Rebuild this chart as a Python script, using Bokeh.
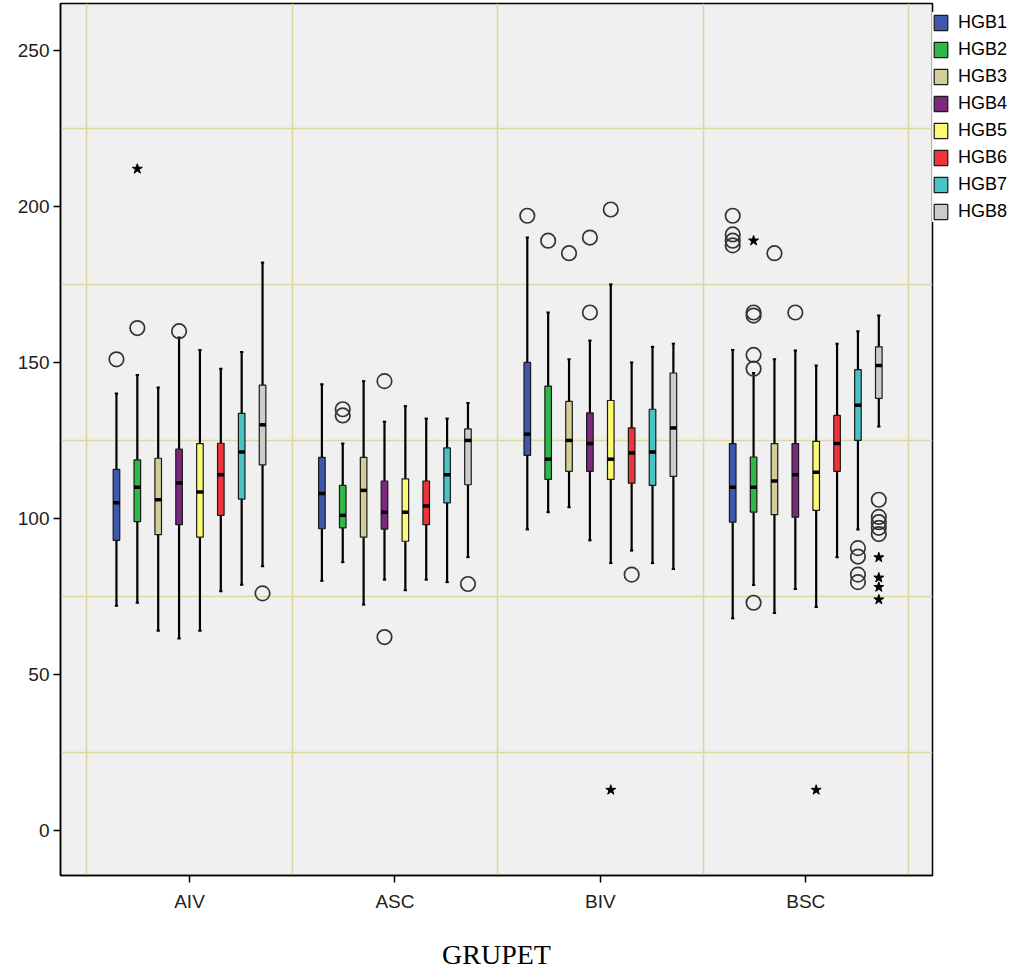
from bokeh.plotting import figure
from bokeh.models import Range1d, FixedTicker, Legend, LegendItem, ColumnDataSource
from bokeh.embed import file_html
from bokeh.resources import INLINE

# ---------------- data ----------------
groups = ["AIV", "ASC", "BIV", "BSC"]
series = ["HGB1", "HGB2", "HGB3", "HGB4", "HGB5", "HGB6", "HGB7", "HGB8"]
colors = ["#3E58AC", "#2EB848", "#D3CE97", "#7C287D", "#FBF873", "#EF3338", "#48C2C5", "#CCCCCC"]

# one row per series, one value per group (AIV, ASC, BIV, BSC)
whisker_low = [
    [72, 80, 96.5, 68],
    [73, 86, 102, 78.7],
    [64, 72.4, 103.6, 69.7],
    [61.5, 80.4, 93, 77.4],
    [64, 77, 85.7, 71.6],
    [76.7, 80.4, 89.7, 87.6],
    [78.8, 79.6, 85.7, 96.5],
    [84.7, 87.6, 83.8, 129.5],
]
q1 = [
    [93, 96.7, 120.2, 98.8],
    [99, 97, 112.5, 102],
    [94.8, 94, 115.1, 101.2],
    [98, 96.6, 115.1, 100.4],
    [94, 92.7, 112.5, 102.6],
    [101, 98, 111.3, 115.1],
    [106.2, 105, 110.6, 125],
    [117.2, 110.8, 113.5, 138.5],
]
median = [
    [105, 108, 127, 110],
    [110, 101, 119, 110],
    [106, 109, 125, 112],
    [111.4, 102, 124, 114],
    [108.5, 102, 119, 114.8],
    [114, 104, 121, 124],
    [121.3, 114, 121.3, 136.3],
    [130, 125, 129, 149],
]
q3 = [
    [115.7, 119.6, 150, 124],
    [118.8, 110.6, 142.4, 119.7],
    [119.3, 119.6, 137.5, 124],
    [122.2, 112, 133.8, 124],
    [124, 112.7, 137.8, 124.7],
    [124.1, 112, 129, 133],
    [133.7, 122.6, 135, 147.7],
    [142.7, 128.7, 146.6, 155],
]
whisker_high = [
    [140, 143, 190, 154],
    [146, 124, 166, 146.6],
    [142, 144, 151, 151],
    [158, 131, 157, 153.8],
    [154, 136, 175, 149],
    [148, 132, 150, 156],
    [153.3, 132, 155, 160],
    [182, 137, 156, 165],
]

# outliers (circles): group index, series index, value
outlier_group = [0, 0, 0, 0,
                 1, 1, 1, 1, 1,
                 2, 2, 2, 2, 2, 2, 2,
                 3, 3, 3, 3, 3, 3, 3, 3, 3, 3, 3, 3, 3, 3, 3, 3, 3, 3, 3, 3]
outlier_series = [0, 1, 3, 7,
                  1, 1, 3, 3, 7,
                  0, 1, 2, 3, 3, 4, 5,
                  0, 0, 0, 0, 1, 1, 1, 1, 1, 2, 3, 6, 6, 6, 6, 7, 7, 7, 7, 7]
outlier_value = [151, 161, 160, 76,
                 135, 133, 144, 62, 79,
                 197, 189, 185, 190, 166, 199, 82,
                 197, 191, 189, 187.5, 166, 165, 152.4, 148, 73, 185, 166,
                 90.5, 87.8, 82, 79.6, 106, 100.5, 98.8, 97, 95]

# extremes (stars)
extreme_group = [0, 2, 3, 3, 3, 3, 3, 3]
extreme_series = [1, 4, 1, 4, 7, 7, 7, 7]
extreme_value = [212, 13, 189, 13, 87.5, 81, 78, 74]

y_ticks = [0, 50, 100, 150, 200, 250]
y_grid = [25, 75, 125, 175, 225]

# ---------------- layout ----------------
offset = 0.1016
box_w = 0.032
cap_w = 0.008

p = figure(frame_width=872, frame_height=872,
           x_range=Range1d(-0.628, 3.617), y_range=Range1d(-14.4, 265),
           output_backend="svg", toolbar_location=None,
           min_border_left=60, min_border_top=3, min_border_right=0, min_border_bottom=93)

p.background_fill_color = "#F0F0F0"
p.border_fill_color = "white"
p.outline_line_color = "black"
p.outline_line_width = 1.5

p.xgrid.ticker = FixedTicker(ticks=[-0.5, 0.5, 1.5, 2.5, 3.5])
p.ygrid.ticker = FixedTicker(ticks=y_grid)
for g in (p.xgrid, p.ygrid):
    g.grid_line_color = "#DCD8A2"
    g.grid_line_width = 1.6

p.xaxis.ticker = FixedTicker(ticks=list(range(len(groups))))
p.xaxis.major_label_overrides = {i: g for i, g in enumerate(groups)}
p.yaxis.ticker = FixedTicker(ticks=y_ticks)
for ax in (p.xaxis, p.yaxis):
    ax.axis_line_color = "black"
    ax.axis_line_width = 1.5
    ax.major_tick_line_color = "black"
    ax.major_tick_line_width = 1.5
    ax.major_tick_out = 7
    ax.major_tick_in = 0
    ax.minor_tick_line_color = None
    ax.major_label_text_font = "Liberation Sans"
    ax.major_label_text_font_size = "19px"
    ax.major_label_text_color = "#222222"
p.yaxis.major_label_standoff = 4
p.xaxis.major_label_standoff = 8
p.xaxis.axis_label = "GRUPET"
p.xaxis.axis_label_text_font = "Liberation Serif"
p.xaxis.axis_label_text_font_style = "normal"
p.xaxis.axis_label_text_font_size = "28px"
p.xaxis.axis_label_text_color = "black"
p.xaxis.axis_label_standoff = 24

items = []
for i, name in enumerate(series):
    xs = [g + (i - 3.5) * offset for g in range(len(groups))]
    src = ColumnDataSource(dict(
        x=xs,
        xl=[x - cap_w for x in xs],
        xr=[x + cap_w for x in xs],
        lo=whisker_low[i], q1=q1[i], med=median[i], q3=q3[i], hi=whisker_high[i],
    ))
    p.segment(x0="x", y0="lo", x1="x", y1="q1", source=src, line_color="black", line_width=2.2)
    p.segment(x0="x", y0="q3", x1="x", y1="hi", source=src, line_color="black", line_width=2.2)
    p.segment(x0="xl", y0="lo", x1="xr", y1="lo", source=src, line_color="black", line_width=2)
    p.segment(x0="xl", y0="hi", x1="xr", y1="hi", source=src, line_color="black", line_width=2)
    r = p.vbar(x="x", width=box_w, bottom="q1", top="q3", source=src,
               fill_color=colors[i], line_color="#1A1A1A", line_width=1.2)
    p.rect(x="x", y="med", width=box_w, height=3.5, height_units="screen", source=src,
           fill_color="black", line_color=None)
    items.append(LegendItem(label=name, renderers=[r]))

ox = [g + (s - 3.5) * offset for g, s in zip(outlier_group, outlier_series)]
p.scatter(x=ox, y=outlier_value, marker="circle", size=14.5,
          fill_color=None, line_color="#333333", line_width=1.7)
ex = [g + (s - 3.5) * offset for g, s in zip(extreme_group, extreme_series)]
p.scatter(x=ex, y=extreme_value, marker="star", size=10.5,
          fill_color="black", line_color="black", line_width=1)

legend = Legend(items=items, location=(0, 653), margin=0, padding=4,
                border_line_color=None, background_fill_color="white",
                glyph_width=17, glyph_height=19, label_height=19, spacing=6,
                label_standoff=9, label_text_font="Liberation Sans",
                label_text_font_size="18px", label_text_color="black")
p.add_layout(legend, "right")

open("out.html", "w").write(file_html(p, INLINE))
